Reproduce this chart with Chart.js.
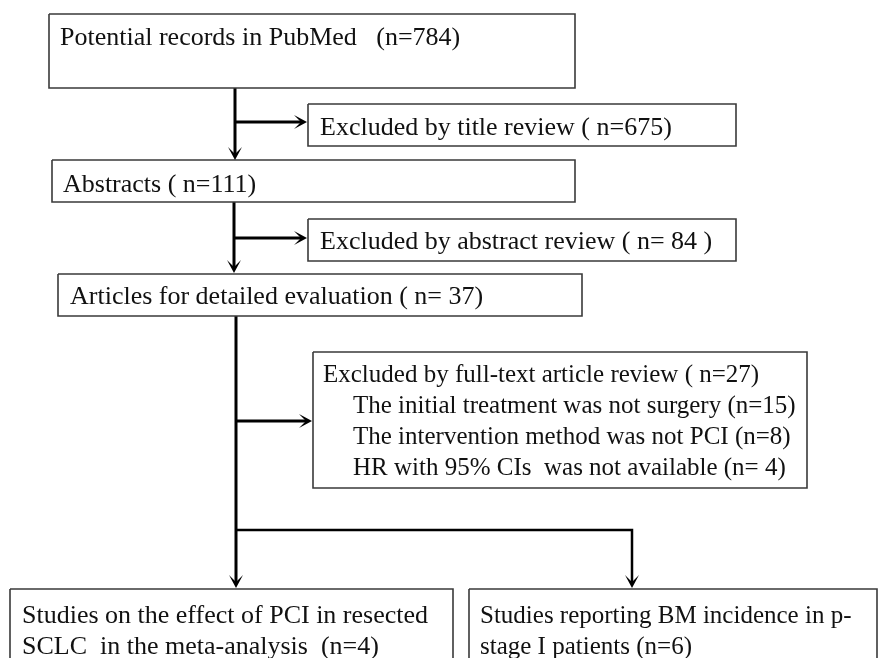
<!DOCTYPE html>
<html lang="en">

<head>
    <meta charset="UTF-8">
    <title>Study Selection Flow</title>
    <style>
        html, body { margin: 0; padding: 0; background: #fff; }
        #wrap { width: 878px; height: 658px; position: relative; }
    </style>
</head>

<body>
    <div id="wrap">
        <canvas id="chartCanvas"></canvas>
    </div>

    <script src="https://cdn.jsdelivr.net/npm/chart.js"></script>

    <script>
        // counts shown in each step of the flow
        const stepLabels = [
            'Potential records in PubMed   (n={n})',
            'Excluded by title review ( n={n})',
            'Abstracts ( n={n})',
            'Excluded by abstract review ( n= {n} )',
            'Articles for detailed evaluation ( n= {n})',
            'Excluded by full-text article review ( n={n})',
            'Studies on the effect of PCI in resected|SCLC  in the meta-analysis  (n={n})',
            'Studies reporting BM incidence in p-|stage I patients (n={n})'
        ];
        const stepCounts = [784, 675, 111, 84, 37, 27, 4, 6];

        // reasons listed inside the full-text exclusion box
        const reasonLabels = [
            'The initial treatment was not surgery (n={n})',
            'The intervention method was not PCI (n={n})',
            'HR with 95% CIs  was not available (n= {n})'
        ];
        const reasonCounts = [15, 8, 4];

        // box geometry in chart units: [left, top, right, bottom], text x, first baseline, font size
        const boxes = [
            { rect: [49, 14, 575, 88], tx: 60, ty: 45, fs: 26 },
            { rect: [308, 104, 736, 146], tx: 320, ty: 135, fs: 26 },
            { rect: [52, 160, 575, 202], tx: 63, ty: 192, fs: 26 },
            { rect: [308, 219, 736, 261], tx: 320, ty: 249, fs: 26 },
            { rect: [58, 274, 582, 316], tx: 70, ty: 304, fs: 26 },
            { rect: [313, 352, 807, 488], tx: 323, ty: 382, fs: 25 },
            { rect: [10, 589, 453, 700], tx: 22, ty: 623, fs: 26 },
            { rect: [469, 589, 877, 700], tx: 480, ty: 623, fs: 25 }
        ];
        const lineGap = 31;
        const reasonIndent = 353;

        // connectors: list of points, last one gets an arrowhead
        const arrows = [
            { pts: [[235, 88], [235, 160]], w: 3 },
            { pts: [[235, 122], [307, 122]], w: 3 },
            { pts: [[234, 202], [234, 273]], w: 3 },
            { pts: [[234, 238], [307, 238]], w: 3 },
            { pts: [[236, 316], [236, 588]], w: 3 },
            { pts: [[236, 421], [312, 421]], w: 3 },
            { pts: [[236, 530], [632, 530], [632, 588]], w: 2.5 }
        ];

        const fmt = (s, n) => s.replace('{n}', n);

        const datasets = [];
        boxes.forEach(b => {
            const [l, t, r, btm] = b.rect;
            datasets.push({
                data: [{ x: l, y: t }, { x: r, y: t }, { x: r, y: btm }, { x: l, y: btm }, { x: l, y: t }],
                showLine: true,
                borderColor: '#3a3a3a',
                borderWidth: 1.6,
                pointRadius: 0,
                tension: 0,
                fill: false
            });
        });
        arrows.forEach(a => {
            // stop the line a little short so the head keeps a clean tip
            const pts = a.pts.map(p => ({ x: p[0], y: p[1] }));
            const n = pts.length;
            const last = pts[n - 1], prev = pts[n - 2];
            const dx = Math.sign(last.x - prev.x), dy = Math.sign(last.y - prev.y);
            pts[n - 1] = { x: last.x - dx * 6, y: last.y - dy * 6 };
            datasets.push({
                data: pts,
                showLine: true,
                borderColor: '#000',
                borderWidth: a.w,
                pointRadius: 0,
                tension: 0,
                fill: false
            });
        });

        const flowPlugin = {
            id: 'flowPlugin',
            afterDatasetsDraw(chart) {
                const ctx = chart.ctx;
                const xs = chart.scales.x, ys = chart.scales.y;
                const px = v => xs.getPixelForValue(v);
                const py = v => ys.getPixelForValue(v);
                ctx.save();

                // arrowheads
                ctx.fillStyle = '#000';
                arrows.forEach(a => {
                    const n = a.pts.length;
                    const tip = a.pts[n - 1], prev = a.pts[n - 2];
                    const tx = px(tip[0]), ty = py(tip[1]);
                    const dx = Math.sign(tip[0] - prev[0]), dy = Math.sign(tip[1] - prev[1]);
                    const len = 13, half = 7, notch = 6;
                    ctx.beginPath();
                    ctx.moveTo(tx, ty);
                    ctx.lineTo(tx - dx * len - dy * half, ty - dy * len + dx * half);
                    ctx.lineTo(tx - dx * notch, ty - dy * notch);
                    ctx.lineTo(tx - dx * len + dy * half, ty - dy * len - dx * half);
                    ctx.closePath();
                    ctx.fill();
                });

                // box texts
                ctx.fillStyle = '#111';
                ctx.textBaseline = 'alphabetic';
                ctx.textAlign = 'left';
                const setFont = fs => { ctx.font = fs + 'px "Liberation Serif", "Times New Roman", serif'; };
                boxes.forEach((b, i) => {
                    setFont(b.fs);
                    const lines = fmt(stepLabels[i], stepCounts[i]).split('|');
                    lines.forEach((s, k) => {
                        ctx.fillText(s, px(b.tx), py(b.ty + k * lineGap));
                    });
                });
                const fb = boxes[5];
                setFont(fb.fs);
                reasonLabels.forEach((s, k) => {
                    ctx.fillText(fmt(s, reasonCounts[k]), px(reasonIndent), py(fb.ty + (k + 1) * lineGap));
                });
                ctx.restore();
            }
        };

        const ctx = document.getElementById('chartCanvas').getContext('2d');
        new Chart(ctx, {
            type: 'scatter',
            data: { datasets: datasets },
            options: {
                responsive: true,
                maintainAspectRatio: false,
                animation: false,
                layout: { padding: 0 },
                plugins: {
                    legend: { display: false },
                    tooltip: { enabled: false }
                },
                scales: {
                    x: { type: 'linear', min: 0, max: 878, display: false },
                    y: { type: 'linear', min: 0, max: 658, reverse: true, display: false }
                }
            },
            plugins: [flowPlugin]
        });
    </script>

</body>

</html>
